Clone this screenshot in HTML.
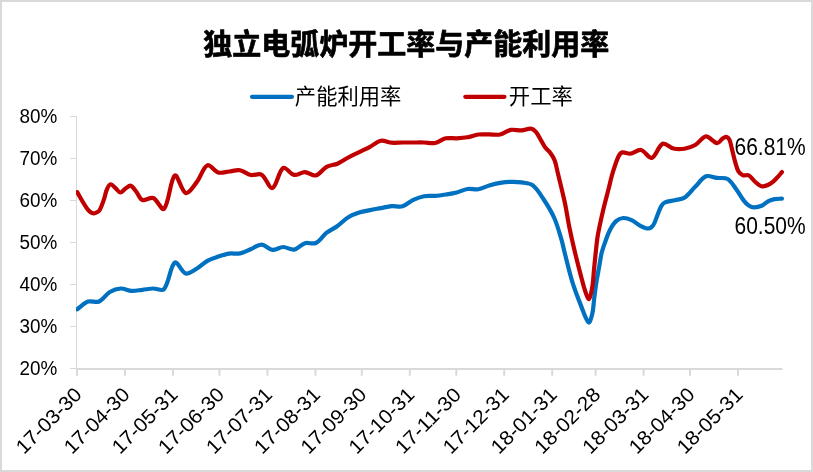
<!DOCTYPE html>
<html lang="zh"><head><meta charset="utf-8"><title>独立电弧炉开工率与产能利用率</title>
<style>html,body{margin:0;padding:0;background:#fff}svg{display:block;will-change:transform}</style></head>
<body>
<svg width="813" height="472" viewBox="0 0 813 472">
<rect x="0" y="0" width="813" height="472" fill="#fff"/>
<rect x="1" y="1" width="811" height="470" fill="none" stroke="#d9d9d9" stroke-width="2"/>
<g stroke="#d9d9d9" fill="none">
<path d="M76.5 116 V375.7" stroke-width="1"/>
<path d="M76 369 H782.5" stroke-width="2"/>
<path d="M70 116.5 H76.5" stroke-width="1"/>
<path d="M70 158.5 H76.5" stroke-width="1"/>
<path d="M70 200.5 H76.5" stroke-width="1"/>
<path d="M70 242.5 H76.5" stroke-width="1"/>
<path d="M70 284.5 H76.5" stroke-width="1"/>
<path d="M70 326.5 H76.5" stroke-width="1"/>
<path d="M70 368.5 H76.5" stroke-width="1"/>
<path d="M77.0 369 V375.7" stroke-width="2"/>
<path d="M125.0 369 V375.7" stroke-width="2"/>
<path d="M173.0 369 V375.7" stroke-width="2"/>
<path d="M219.4 369 V375.7" stroke-width="2"/>
<path d="M267.4 369 V375.7" stroke-width="2"/>
<path d="M315.4 369 V375.7" stroke-width="2"/>
<path d="M361.8 369 V375.7" stroke-width="2"/>
<path d="M409.8 369 V375.7" stroke-width="2"/>
<path d="M456.3 369 V375.7" stroke-width="2"/>
<path d="M504.2 369 V375.7" stroke-width="2"/>
<path d="M552.2 369 V375.7" stroke-width="2"/>
<path d="M595.6 369 V375.7" stroke-width="2"/>
<path d="M643.6 369 V375.7" stroke-width="2"/>
<path d="M690.0 369 V375.7" stroke-width="2"/>
<path d="M738.0 369 V375.7" stroke-width="2"/>
</g>
<g font-family="'Liberation Sans', sans-serif" font-size="19.9" fill="#000">
<text x="57.3" y="123.2" text-anchor="end" textLength="37.8" lengthAdjust="spacingAndGlyphs">80%</text>
<text x="57.3" y="165.2" text-anchor="end" textLength="37.8" lengthAdjust="spacingAndGlyphs">70%</text>
<text x="57.3" y="207.2" text-anchor="end" textLength="37.8" lengthAdjust="spacingAndGlyphs">60%</text>
<text x="57.3" y="249.2" text-anchor="end" textLength="37.8" lengthAdjust="spacingAndGlyphs">50%</text>
<text x="57.3" y="291.2" text-anchor="end" textLength="37.8" lengthAdjust="spacingAndGlyphs">40%</text>
<text x="57.3" y="333.2" text-anchor="end" textLength="37.8" lengthAdjust="spacingAndGlyphs">30%</text>
<text x="57.3" y="375.2" text-anchor="end" textLength="37.8" lengthAdjust="spacingAndGlyphs">20%</text>
<text transform="translate(83.0 395.9) rotate(-45)" text-anchor="end" textLength="83.6" lengthAdjust="spacingAndGlyphs">17-03-30</text>
<text transform="translate(131.0 395.9) rotate(-45)" text-anchor="end" textLength="83.6" lengthAdjust="spacingAndGlyphs">17-04-30</text>
<text transform="translate(179.0 395.9) rotate(-45)" text-anchor="end" textLength="83.6" lengthAdjust="spacingAndGlyphs">17-05-31</text>
<text transform="translate(225.4 395.9) rotate(-45)" text-anchor="end" textLength="83.6" lengthAdjust="spacingAndGlyphs">17-06-30</text>
<text transform="translate(273.4 395.9) rotate(-45)" text-anchor="end" textLength="83.6" lengthAdjust="spacingAndGlyphs">17-07-31</text>
<text transform="translate(321.4 395.9) rotate(-45)" text-anchor="end" textLength="83.6" lengthAdjust="spacingAndGlyphs">17-08-31</text>
<text transform="translate(367.8 395.9) rotate(-45)" text-anchor="end" textLength="83.6" lengthAdjust="spacingAndGlyphs">17-09-30</text>
<text transform="translate(415.8 395.9) rotate(-45)" text-anchor="end" textLength="83.6" lengthAdjust="spacingAndGlyphs">17-10-31</text>
<text transform="translate(462.3 395.9) rotate(-45)" text-anchor="end" textLength="83.6" lengthAdjust="spacingAndGlyphs">17-11-30</text>
<text transform="translate(510.2 395.9) rotate(-45)" text-anchor="end" textLength="83.6" lengthAdjust="spacingAndGlyphs">17-12-31</text>
<text transform="translate(558.2 395.9) rotate(-45)" text-anchor="end" textLength="83.6" lengthAdjust="spacingAndGlyphs">18-01-31</text>
<text transform="translate(601.6 395.9) rotate(-45)" text-anchor="end" textLength="83.6" lengthAdjust="spacingAndGlyphs">18-02-28</text>
<text transform="translate(649.6 395.9) rotate(-45)" text-anchor="end" textLength="83.6" lengthAdjust="spacingAndGlyphs">18-03-31</text>
<text transform="translate(696.0 395.9) rotate(-45)" text-anchor="end" textLength="83.6" lengthAdjust="spacingAndGlyphs">18-04-30</text>
<text transform="translate(744.0 395.9) rotate(-45)" text-anchor="end" textLength="83.6" lengthAdjust="spacingAndGlyphs">18-05-31</text>
</g>
<clipPath id="plot"><rect x="76.1" y="100" width="720" height="269"/></clipPath>
<g clip-path="url(#plot)">
<path d="M77.30 309.20 C80.91 306.67 84.17 303.01 88.14 301.60 C91.39 300.44 95.88 302.87 98.98 301.50 C103.10 299.67 105.78 294.42 109.82 292.00 C113.01 290.09 117.00 288.70 120.66 288.50 C124.22 288.30 127.85 290.58 131.50 290.80 C135.08 291.01 138.73 290.18 142.34 289.80 C145.96 289.42 149.56 288.62 153.18 288.50 C156.78 288.38 162.04 291.48 164.02 289.10 C169.26 282.81 170.16 265.88 174.86 262.50 C177.39 260.68 181.61 272.31 185.70 273.50 C188.83 274.41 193.16 270.78 196.54 268.80 C200.39 266.54 203.50 262.98 207.38 260.80 C210.73 258.92 214.55 257.82 218.22 256.60 C221.77 255.42 225.38 254.14 229.06 253.60 C232.61 253.08 236.41 254.11 239.90 253.40 C243.64 252.64 247.15 250.66 250.74 249.20 C254.38 247.72 258.01 244.48 261.58 244.60 C265.24 244.72 268.68 249.49 272.42 249.90 C275.90 250.29 279.63 247.05 283.26 247.00 C286.86 246.95 290.71 250.19 294.10 249.60 C297.93 248.93 301.06 244.38 304.94 243.20 C308.28 242.18 312.74 244.47 315.78 243.00 C319.97 240.97 322.72 235.76 326.62 232.70 C329.95 230.09 334.01 228.47 337.46 226.00 C341.24 223.30 344.38 219.62 348.30 217.20 C351.61 215.16 355.42 213.82 359.14 212.60 C362.65 211.45 366.35 210.85 369.98 210.10 C373.58 209.35 377.21 208.77 380.82 208.10 C384.43 207.43 388.02 206.40 391.66 206.10 C395.24 205.80 399.16 207.27 402.50 206.30 C406.39 205.17 409.54 201.57 413.34 199.80 C416.77 198.20 420.47 196.87 424.18 196.20 C427.70 195.57 431.42 196.18 435.02 195.90 C438.65 195.62 442.26 195.06 445.86 194.50 C449.49 193.93 453.15 193.40 456.70 192.50 C460.37 191.57 463.84 189.56 467.54 189.00 C471.06 188.46 474.87 189.77 478.38 189.20 C482.09 188.60 485.56 186.56 489.22 185.50 C492.78 184.46 496.41 183.52 500.06 182.90 C503.63 182.29 507.28 181.88 510.90 181.80 C514.51 181.72 518.18 181.84 521.74 182.40 C525.41 182.98 529.77 183.04 532.58 185.20 C536.99 188.58 540.20 194.13 543.42 199.00 C547.43 205.07 551.30 211.37 554.26 218.00 C557.30 224.81 559.22 232.14 561.40 239.30 C562.47 242.81 563.09 246.44 564.00 250.00 C566.63 260.28 568.92 270.66 572.00 280.80 C574.45 288.86 577.48 296.77 580.60 304.60 C583.01 310.64 586.00 320.50 588.60 322.40 C589.93 323.37 591.65 316.40 592.40 313.20 C593.52 308.44 593.56 303.40 594.20 298.50 C594.96 292.66 595.69 286.82 596.60 281.00 C597.39 275.98 598.40 271.00 599.30 266.00 C600.07 261.70 600.56 257.33 601.60 253.10 C602.56 249.23 603.96 245.46 605.30 241.70 C606.62 237.99 607.80 234.18 609.60 230.70 C611.30 227.41 613.18 223.86 615.80 221.40 C617.68 219.63 620.58 218.19 623.10 218.00 C625.88 217.79 629.04 219.00 631.70 220.20 C634.80 221.60 637.34 224.27 640.40 225.80 C642.87 227.04 645.81 228.64 648.30 228.50 C650.11 228.40 652.22 226.71 653.30 225.10 C655.32 222.11 656.14 218.16 657.60 214.70 C658.81 211.82 659.72 208.73 661.30 206.10 C662.18 204.63 663.46 203.07 665.00 202.40 C667.96 201.11 671.54 200.97 674.80 200.20 C677.99 199.44 681.70 199.54 684.34 197.80 C688.49 195.07 691.53 190.42 695.18 186.80 C698.75 183.26 701.83 178.02 706.02 176.30 C709.06 175.05 713.24 177.45 716.86 177.90 C720.46 178.35 724.81 177.28 727.70 179.00 C731.32 181.15 733.69 185.86 736.40 189.50 C739.05 193.06 741.10 197.09 743.80 200.60 C745.20 202.42 746.82 204.27 748.70 205.50 C750.28 206.53 752.34 207.40 754.20 207.40 C756.84 207.40 759.73 206.58 762.20 205.50 C764.47 204.51 766.19 202.35 768.40 201.20 C770.29 200.22 772.41 199.49 774.50 199.10 C776.91 198.65 779.43 198.83 781.90 198.70" fill="none" stroke="#0070c0" stroke-width="4.2" stroke-linecap="round" stroke-linejoin="round"/>
<path d="M77.30 192.20 C79.00 195.20 80.64 198.24 82.40 201.20 C83.81 203.57 85.18 205.98 86.80 208.20 C87.81 209.58 88.96 210.99 90.30 212.00 C91.26 212.72 92.55 213.35 93.70 213.40 C94.82 213.45 96.09 212.88 97.10 212.30 C98.12 211.71 99.26 210.95 99.80 209.90 C101.62 206.38 102.88 202.42 104.20 198.60 C105.22 195.65 105.53 192.40 106.80 189.60 C107.69 187.63 109.21 184.54 110.70 184.30 C112.11 184.07 113.93 186.86 115.50 188.20 C117.13 189.59 118.65 192.50 120.30 192.50 C122.11 192.50 123.94 189.48 125.90 188.20 C127.40 187.22 129.32 185.24 130.70 185.70 C132.79 186.40 134.58 189.58 136.30 191.70 C138.46 194.35 139.63 198.99 142.34 200.00 C145.25 201.09 150.15 196.77 153.18 198.00 C157.38 199.71 161.82 211.08 164.02 208.80 C169.05 203.58 170.31 178.82 174.86 175.50 C177.54 173.55 181.54 191.68 185.70 193.00 C188.77 193.98 193.45 186.35 196.54 182.40 C200.67 177.12 202.98 167.31 207.38 165.30 C210.21 164.01 214.29 171.37 218.22 172.50 C221.51 173.44 225.45 171.87 229.06 171.50 C232.68 171.13 236.43 169.74 239.90 170.30 C243.66 170.91 246.97 174.24 250.74 175.00 C254.20 175.70 258.78 173.02 261.58 174.70 C266.01 177.36 269.32 188.97 272.42 188.00 C276.55 186.71 278.64 170.69 283.26 167.90 C285.87 166.32 290.23 174.15 294.10 174.90 C297.46 175.55 301.35 172.02 304.94 172.10 C308.58 172.18 312.53 176.20 315.78 175.40 C319.75 174.43 322.64 168.95 326.62 166.80 C329.86 165.05 334.03 165.17 337.46 163.70 C341.26 162.07 344.63 159.46 348.30 157.50 C351.86 155.60 355.52 153.89 359.14 152.10 C362.75 150.32 366.41 148.66 369.98 146.80 C373.64 144.89 376.99 141.52 380.82 140.80 C384.22 140.16 388.02 142.41 391.66 142.70 C395.25 142.98 398.89 142.53 402.50 142.50 C406.11 142.47 409.73 142.50 413.34 142.50 C416.95 142.50 420.57 142.42 424.18 142.50 C427.80 142.58 431.56 143.67 435.02 143.00 C438.79 142.27 442.09 139.12 445.86 138.30 C449.32 137.55 453.09 138.47 456.70 138.30 C460.32 138.13 463.98 137.92 467.54 137.30 C471.20 136.66 474.71 134.99 478.38 134.50 C481.94 134.02 485.61 134.40 489.22 134.40 C492.83 134.40 496.60 135.22 500.06 134.50 C503.82 133.72 507.14 130.61 510.90 129.90 C514.37 129.24 518.16 130.63 521.74 130.40 C524.79 130.20 527.93 128.35 530.80 128.60 C532.58 128.75 534.46 130.21 535.70 131.60 C537.73 133.87 539.00 136.92 540.60 139.60 C542.06 142.05 543.23 144.70 544.90 147.00 C546.50 149.20 548.80 150.90 550.40 153.10 C552.07 155.40 553.72 157.85 554.70 160.50 C556.18 164.49 556.80 168.83 557.80 173.00 C560.20 182.99 562.76 192.95 564.90 203.00 C566.59 210.95 567.69 219.03 569.30 227.00 C570.86 234.70 572.59 242.36 574.40 250.00 C576.35 258.23 578.44 266.43 580.60 274.60 C582.14 280.43 583.55 286.32 585.50 292.00 C586.35 294.49 588.13 299.75 589.00 299.10 C590.39 298.05 591.61 291.04 592.30 286.90 C593.31 280.84 593.49 274.63 594.10 268.50 C594.72 262.33 595.31 256.16 596.00 250.00 C596.55 245.09 596.94 240.16 597.80 235.30 C599.20 227.39 600.98 219.53 602.80 211.70 C604.48 204.43 606.46 197.23 608.30 190.00 C609.73 184.37 610.90 178.65 612.60 173.10 C614.37 167.32 616.14 161.36 618.70 156.00 C619.44 154.46 620.96 152.71 622.50 152.40 C624.78 151.94 627.65 154.02 630.14 153.70 C633.81 153.22 637.65 149.36 640.98 150.00 C644.88 150.76 648.71 158.79 651.82 157.90 C655.94 156.72 658.32 145.68 662.66 143.80 C665.54 142.55 669.73 147.65 673.50 148.50 C676.96 149.28 680.83 149.27 684.34 148.70 C688.05 148.10 691.91 146.86 695.18 145.00 C699.13 142.76 702.24 136.71 706.00 136.40 C709.54 136.11 713.54 142.75 717.10 143.20 C719.08 143.45 720.63 139.85 722.60 138.50 C723.70 137.75 725.18 136.72 726.30 136.90 C727.44 137.09 728.83 138.41 729.40 139.60 C730.66 142.24 731.04 145.46 731.80 148.40 C733.07 153.29 734.09 158.26 735.50 163.10 C736.35 166.02 737.06 169.19 738.60 171.70 C739.53 173.22 741.25 174.60 742.90 175.20 C744.72 175.86 747.32 174.61 749.00 175.50 C751.29 176.71 752.67 179.74 754.80 181.50 C757.07 183.37 759.57 186.09 762.20 186.40 C764.90 186.72 768.23 184.90 770.80 183.40 C773.16 182.03 775.05 179.78 777.00 177.80 C778.75 176.02 780.27 174.00 781.90 172.10" fill="none" stroke="#c00000" stroke-width="4.2" stroke-linecap="round" stroke-linejoin="round"/>
</g>
<g font-family="'Liberation Sans', sans-serif" font-size="23.2" fill="#000">
<text x="734.5" y="154.9" textLength="71.2" lengthAdjust="spacingAndGlyphs">66.81%</text>
<text x="734.5" y="234.0" textLength="71.2" lengthAdjust="spacingAndGlyphs">60.50%</text>
</g>
<text x="406.3" y="55.1" text-anchor="middle" font-family="'Liberation Sans', 'Noto Sans CJK SC', sans-serif" font-weight="bold" font-size="29" fill="#000" stroke="#000" stroke-width="0.7" stroke-linejoin="round">独立电弧炉开工率与产能利用率</text>
<g stroke-width="4.2" stroke-linecap="round"><path d="M252 96.8 H292" stroke="#0070c0"/><path d="M465.3 96.8 H504.4" stroke="#c00000"/></g>
<g font-family="'Liberation Sans', 'Noto Sans CJK SC', sans-serif" font-size="21.33" fill="#000">
<text x="294.8" y="103.8">产能利用率</text>
<text x="508.8" y="103.8">开工率</text>
</g>
</svg>
</body></html>
